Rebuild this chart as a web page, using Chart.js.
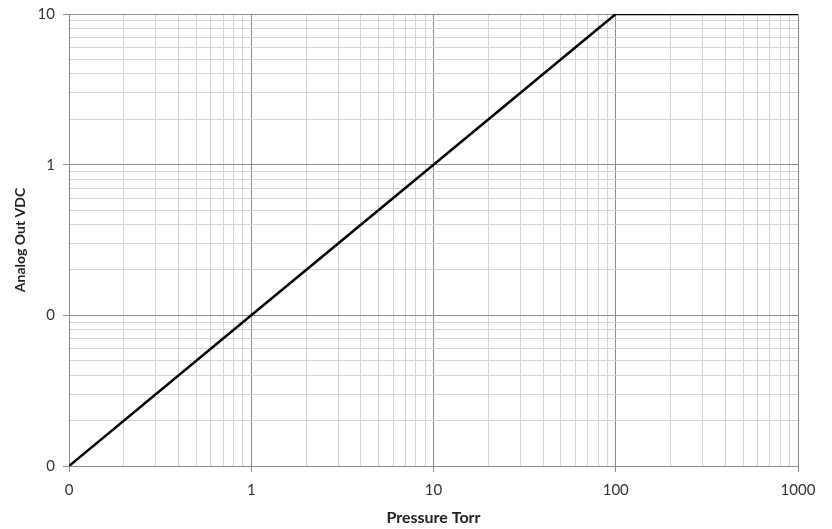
<!DOCTYPE html>
<html>
<head>
<meta charset="utf-8">
<script src="https://cdn.jsdelivr.net/npm/chart.js@4.4.1/dist/chart.umd.min.js"></script>
<style>
    html, body { margin: 0; padding: 0; background: #fff; }
    #wrap { width: 832px; height: 529px; }
</style>
</head>
<body>
<div id="wrap"><canvas id="grafico" width="832" height="529"></canvas></div>
<script>
// valores
const pressao = [0.1, 1, 10, 100, 1000];
const saida = [0.01, 0.1, 1, 10, 10];

// marcas maiores e seus rótulos (formato do Excel sem casas decimais)
const xMaiores = [0.1, 1, 10, 100, 1000];
const xRotulos = ['0', '1', '10', '100', '1000'];
const yMaiores = [0.01, 0.1, 1, 10];
const yRotulos = ['0', '0', '1', '10'];

function ticksLog(maiores) {
    const ticks = [];
    for (let i = 0; i < maiores.length; i++) {
        ticks.push({ value: maiores[i], major: true });
        if (i < maiores.length - 1) {
            for (let m = 2; m <= 9; m++) ticks.push({ value: maiores[i] * m, major: false });
        }
    }
    return ticks;
}

function rotulo(maiores, rotulos) {
    return function (value) {
        const i = maiores.findIndex(v => Math.abs(v - value) / v < 1e-6);
        return i >= 0 ? rotulos[i] : '';
    };
}

const corGrade = ctx => (ctx.tick && ctx.tick.major) ? '#8c8c8c' : '#d4d4d4';
const corTick = ctx => (ctx.tick && ctx.tick.major) ? '#8c8c8c' : 'rgba(0,0,0,0)';

new Chart(document.getElementById('grafico'), {
    type: 'line',
    data: {
        datasets: [{
            data: pressao.map((p, i) => ({ x: p, y: saida[i] })),
            borderColor: '#000',
            borderWidth: 2.5,
            pointRadius: 0,
            tension: 0,
            fill: false
        }]
    },
    options: {
        responsive: false,
        animation: false,
        layout: { padding: { top: 14, right: 34, left: 0, bottom: 0 } },
        plugins: { legend: { display: false }, tooltip: { enabled: false } },
        scales: {
            x: {
                type: 'logarithmic',
                min: 0.1,
                max: 1000,
                afterBuildTicks: s => { s.ticks = ticksLog(xMaiores); },
                afterFit: s => { s.height = 63; },
                grid: { color: corGrade, tickColor: corTick, tickLength: 6, lineWidth: 1 },
                border: { color: '#8c8c8c' },
                ticks: {
                    autoSkip: false,
                    maxRotation: 0,
                    color: '#333',
                    font: { family: 'Lato', size: 15 },
                    padding: 9,
                    callback: rotulo(xMaiores, xRotulos)
                },
                title: {
                    display: true,
                    text: 'Pressure Torr',
                    color: '#222',
                    font: { family: 'Lato', size: 16, weight: 'bold' },
                    padding: { top: 0, bottom: 2 }
                }
            },
            y: {
                type: 'logarithmic',
                min: 0.01,
                max: 10,
                afterBuildTicks: s => { s.ticks = ticksLog(yMaiores); },
                afterFit: s => { s.width = 69; s.paddingTop = 0; s.paddingBottom = 0; },
                grid: { color: corGrade, tickColor: corTick, tickLength: 6, lineWidth: 1 },
                border: { color: '#8c8c8c' },
                ticks: {
                    autoSkip: false,
                    color: '#333',
                    font: { family: 'Lato', size: 15 },
                    padding: 8,
                    callback: rotulo(yMaiores, yRotulos)
                },
                title: {
                    display: true,
                    text: 'Analog Out VDC',
                    color: '#222',
                    font: { family: 'Lato', size: 14, weight: 'bold' },
                    padding: { top: 12, bottom: 2 }
                }
            }
        }
    }
});
</script>
</body>
</html>
